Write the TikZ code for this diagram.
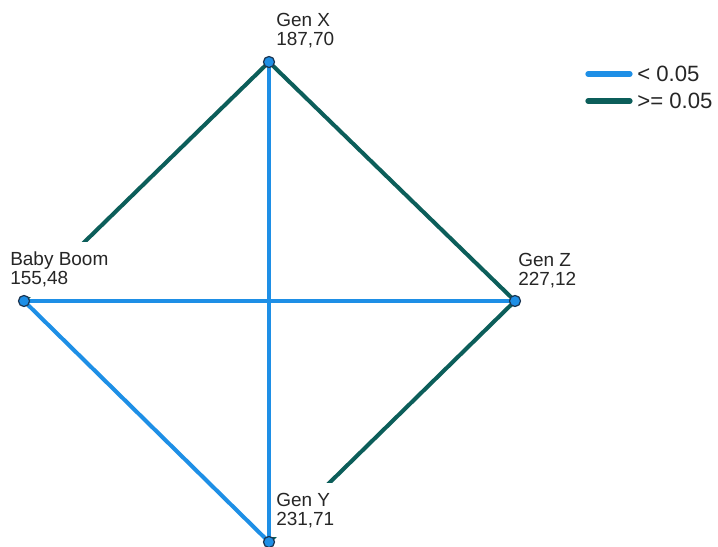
\documentclass[tikz,border=0pt]{standalone}
\usepackage{fontspec}
\setmainfont{Liberation Sans}
\usetikzlibrary{positioning}
\definecolor{azul}{HTML}{1E8FE6}
\definecolor{verde}{HTML}{0C5E5A}
\definecolor{borde}{HTML}{1B3552}
\definecolor{texto}{HTML}{262626}

\begin{document}
\begin{tikzpicture}[x=0.02cm, y=-0.02cm, line cap=butt, font=\fontsize{10.8}{10.6}\selectfont,
  sig/.style={azul, line width=2.3pt},
  nosig/.style={verde, line width=2.3pt},
  etiqueta/.style={anchor=north west, align=left, fill=white, text=texto, inner xsep=2.8pt, inner ysep=5.6pt},
  punto/.style={circle, draw=borde, fill=azul, line width=0.7pt, inner sep=0pt, minimum size=6.3pt}]
  \useasboundingbox (0,0) rectangle (718,547);

  % Posiciones de las generaciones
  \coordinate (gx) at (269,62);
  \coordinate (bb) at (24,301);
  \coordinate (gz) at (515,301);
  \coordinate (gy) at (269,542);

  % Comparaciones por pares
  \draw[sig] (gx) -- (gy);
  \draw[sig] (bb) -- (gz);
  \draw[sig] (bb) -- (gy);
  \draw[nosig] (gx) -- (gz);
  \draw[nosig] (gx) -- (bb);
  \draw[nosig] (gz) -- (gy);

  % Etiquetas con rango medio
  \node[etiqueta] (lgx) at (271,3) {Gen X\\187,70};
  \node[etiqueta] (lbb) at (5,242) {Baby Boom\\155,48};
  \node[etiqueta] (lgz) at (513,243) {Gen Z\\227,12};
  \node[etiqueta] (lgy) at (271,483) {Gen Y\\231,71};

  % Nodos
  \foreach \p in {gx,bb,gz,gy}
    \node[punto] (n\p) at (\p) {};

  % Leyenda
  \node[anchor=west, text=texto, font=\fontsize{12.6}{13}\selectfont, inner sep=0pt] (leg1) at (637,74) {< 0.05};
  \node[anchor=west, text=texto, font=\fontsize{12.6}{13}\selectfont, inner sep=0pt] (leg2) at (637,101) {>= 0.05};
  \coordinate (c1) at (588,74);
  \coordinate (c2) at (588,101);
  \draw[sig, line width=3pt, line cap=round] (c1) -- ([xshift=-4pt]leg1.west);
  \draw[nosig, line width=3pt, line cap=round] (c2) -- ([xshift=-4pt]leg2.west);
\end{tikzpicture}
\end{document}
